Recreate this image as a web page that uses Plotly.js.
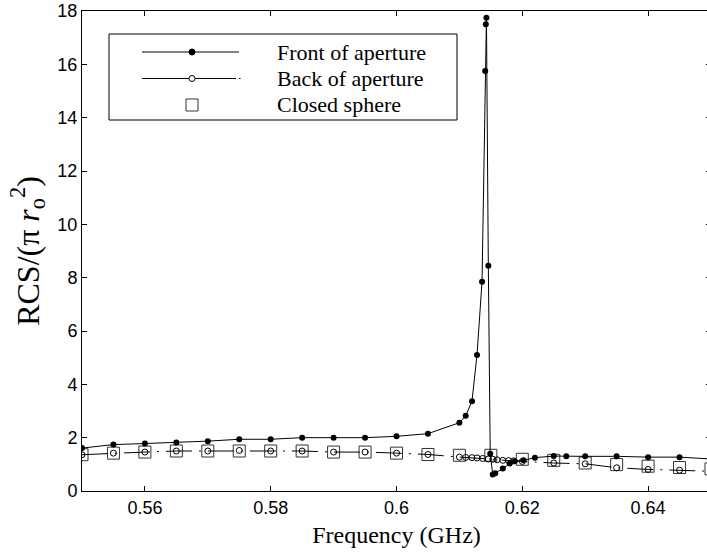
<!DOCTYPE html>
<html>
<head>
<meta charset="utf-8">
<script src="https://cdn.plot.ly/plotly-3.0.1.min.js"></script>
<style>
html,body{margin:0;padding:0;overflow:hidden;background:#fff;width:707px;height:552px;}
#chart{width:715px;height:552px;}
</style>
</head>
<body>
<div id="chart"></div>
<script>
// ---- data ----
var freqFront = [0.55,0.555,0.56,0.565,0.57,0.575,0.58,0.585,0.59,0.595,0.60,0.605,0.61,0.611,0.612,0.6128,0.6136,0.6141,0.6142,0.6143,0.6146,0.6149,0.6153,0.6157,0.6169,0.618,0.6188,0.6202,0.622,0.625,0.627,0.63,0.635,0.64,0.645,0.65];
var rcsFront  = [1.61,1.74,1.78,1.82,1.87,1.94,1.94,2.0,2.0,2.0,2.05,2.15,2.56,2.82,3.37,5.1,7.85,15.75,17.5,17.75,8.45,1.4,0.62,0.67,0.84,1.03,1.12,1.15,1.25,1.31,1.30,1.30,1.30,1.27,1.27,1.2];

var freqBack = [0.55,0.555,0.56,0.565,0.57,0.575,0.58,0.585,0.59,0.595,0.60,0.605,0.61,0.611,0.612,0.6128,0.6137,0.6146,0.6153,0.616,0.6169,0.6178,0.6186,0.62,0.625,0.63,0.635,0.64,0.645,0.65];
var rcsBack  = [1.36,1.42,1.46,1.5,1.5,1.52,1.5,1.5,1.46,1.46,1.42,1.37,1.27,1.26,1.25,1.24,1.22,1.2,1.19,1.17,1.15,1.14,1.13,1.11,1.05,1.02,0.87,0.81,0.78,0.74];

var freqClosed = [0.55,0.555,0.56,0.565,0.57,0.575,0.58,0.585,0.59,0.595,0.60,0.605,0.61,0.615,0.62,0.625,0.63,0.635,0.64,0.645,0.65];
var rcsClosed  = [1.36,1.42,1.46,1.5,1.5,1.5,1.5,1.5,1.46,1.46,1.42,1.37,1.34,1.34,1.19,1.15,1.05,0.99,0.93,0.88,0.83];

var seriesNames = ["Front of aperture","Back of aperture","Closed sphere"];
var xTickVals = [0.56,0.58,0.60,0.62,0.64];
var xTickText = ["0.56","0.58","0.6","0.62","0.64"];
var yTickVals = [0,2,4,6,8,10,12,14,16,18];
var yTickText = ["0","2","4","6","8","10","12","14","16","18"];

// ---- layout geometry ----
var W = 715, H = 552, L = 82, R = 4, T = 11, B = 61;
var PW = W - L - R, PH = H - T - B;
function px(x){ return (x - L) / PW; }
function py(y){ return (T + PH - y) / PH; }

var traces = [
  {x: freqClosed, y: rcsClosed, name: seriesNames[2], mode: 'markers', type: 'scatter',
   marker: {symbol: 'square-open', size: 12, color: '#333', line: {width: 1, color: '#333'}}, showlegend: false},
  {x: freqBack, y: rcsBack, name: seriesNames[1], mode: 'lines+markers', type: 'scatter',
   line: {color: '#000', width: 1, dash: '26px,7px,2px,7px'},
   marker: {symbol: 'circle-open', size: 6, color: '#000', line: {width: 1, color: '#000'}}, showlegend: false},
  {x: freqFront, y: rcsFront, name: seriesNames[0], mode: 'lines+markers', type: 'scatter',
   line: {color: '#000', width: 1},
   marker: {symbol: 'circle', size: 6, color: '#000'}, showlegend: false}
];

// custom legend (MATLAB style)
var rows = [52, 78.5, 105];
var lx0 = 142, lx1 = 239, mx = 192, tx = 275;
var shapes = [
  {type: 'rect', xref: 'paper', yref: 'paper', x0: px(109), x1: px(457), y0: py(34), y1: py(120),
   line: {color: '#000', width: 1}, fillcolor: '#fff', layer: 'above'},
  {type: 'line', xref: 'paper', yref: 'paper', x0: px(lx0), x1: px(lx1), y0: py(rows[0]), y1: py(rows[0]),
   line: {color: '#000', width: 1}, layer: 'above'},
  {type: 'circle', xref: 'paper', yref: 'paper', x0: px(mx-3), x1: px(mx+3), y0: py(rows[0]+3), y1: py(rows[0]-3),
   line: {color: '#000', width: 1}, fillcolor: '#000', layer: 'above'},
  {type: 'line', xref: 'paper', yref: 'paper', x0: px(lx0), x1: px(lx1-3), y0: py(rows[1]), y1: py(rows[1]),
   line: {color: '#000', width: 1}, layer: 'above'},
  {type: 'line', xref: 'paper', yref: 'paper', x0: px(lx1), x1: px(lx1+1.5), y0: py(rows[1]), y1: py(rows[1]),
   line: {color: '#000', width: 1}, layer: 'above'},
  {type: 'circle', xref: 'paper', yref: 'paper', x0: px(mx-3), x1: px(mx+3), y0: py(rows[1]+3), y1: py(rows[1]-3),
   line: {color: '#000', width: 1}, fillcolor: '#fff', layer: 'above'},
  {type: 'rect', xref: 'paper', yref: 'paper', x0: px(mx-6), x1: px(mx+6), y0: py(rows[2]+6), y1: py(rows[2]-6),
   line: {color: '#333', width: 1}, fillcolor: 'rgba(0,0,0,0)', layer: 'above'}
];
var annotations = seriesNames.map(function(n, i){
  return {text: n, xref: 'paper', yref: 'paper', x: px(tx), y: py(rows[i]), xanchor: 'left', yanchor: 'middle',
          showarrow: false, font: {family: 'Liberation Serif, Times New Roman, serif', size: 22, color: '#000'}};
});

var layout = {
  width: W, height: H,
  margin: {l: L, r: R, t: T, b: B, pad: 0},
  paper_bgcolor: '#fff', plot_bgcolor: '#fff',
  showlegend: false,
  font: {family: 'Liberation Sans, Arial, sans-serif', color: '#000', size: 18},
  xaxis: {
    range: [0.55, 0.65], tickvals: xTickVals, ticktext: xTickText,
    ticks: 'inside', ticklen: 5, tickcolor: '#000', tickwidth: 1,
    showline: true, linecolor: '#000', linewidth: 1, mirror: 'ticks',
    showgrid: false, zeroline: false,
    tickfont: {size: 18, family: 'Liberation Sans, Arial, sans-serif'},
    title: {text: 'Frequency (GHz)', font: {family: 'Liberation Serif, Times New Roman, serif', size: 24}, standoff: 9}
  },
  yaxis: {
    range: [0, 18], tickvals: yTickVals, ticktext: yTickText,
    ticks: 'inside', ticklen: 5, tickcolor: '#000', tickwidth: 1,
    showline: true, linecolor: '#000', linewidth: 1, mirror: 'ticks',
    showgrid: false, zeroline: false,
    tickfont: {size: 18, family: 'Liberation Sans, Arial, sans-serif'},
    title: {text: 'RCS/(π <i>r</i><sub>o</sub><sup>2</sup>)\u00a0\u00a0', font: {family: 'Liberation Serif, Times New Roman, serif', size: 32}, standoff: 8}
  },
  shapes: shapes,
  annotations: annotations
};

Plotly.newPlot('chart', traces, layout, {displayModeBar: false, staticPlot: true});
</script>
</body>
</html>
